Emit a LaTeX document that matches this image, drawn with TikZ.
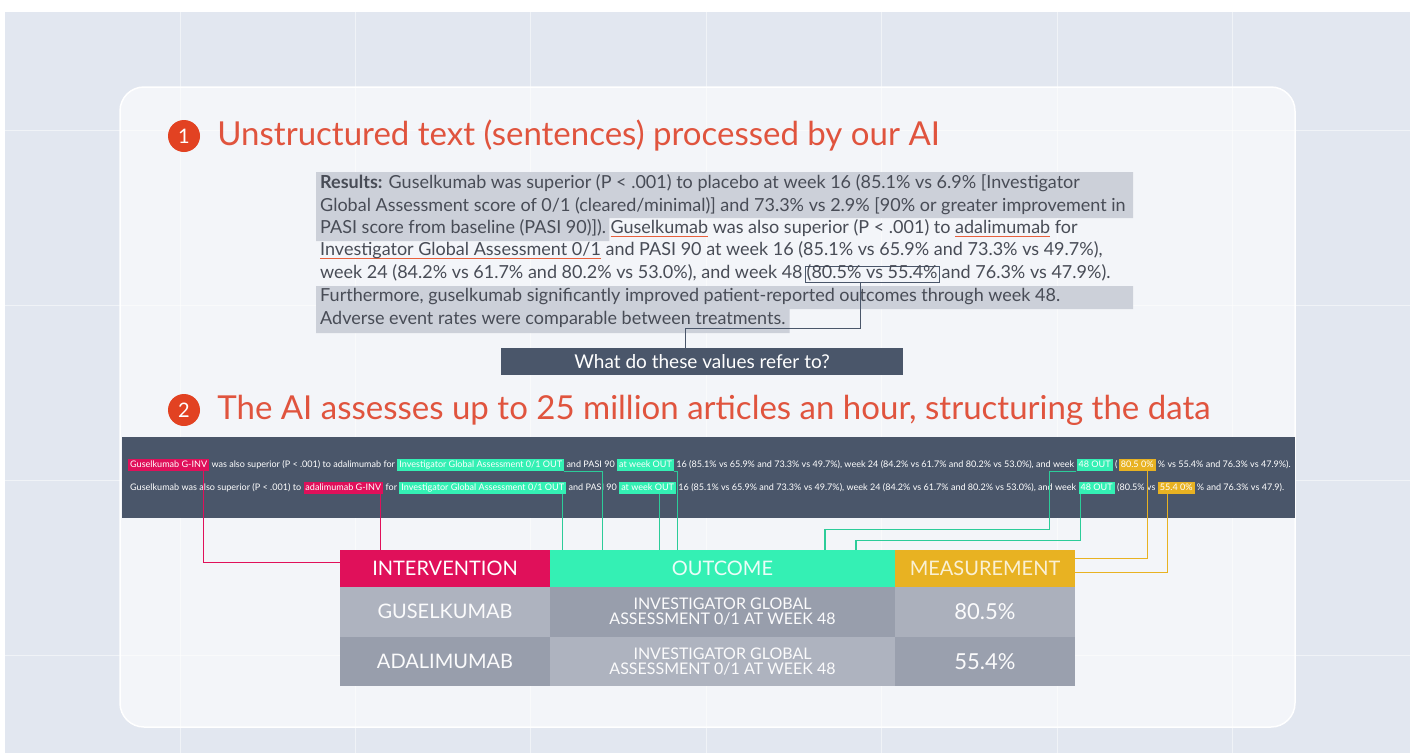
\documentclass[tikz,border=0pt]{standalone}
\usepackage{fontspec}
\setmainfont{Lato}
\usetikzlibrary{positioning,calc}

\definecolor{bgblue}{RGB}{226,231,240}
\definecolor{headred}{RGB}{224,84,62}
\definecolor{badgered}{RGB}{226,66,34}
\definecolor{paratext}{RGB}{72,76,86}
\definecolor{hlgrey}{RGB}{204,208,217}
\definecolor{uline}{RGB}{232,96,60}
\definecolor{slate}{RGB}{74,86,106}
\definecolor{crimson}{RGB}{224,16,90}
\definecolor{mint}{RGB}{52,240,180}
\definecolor{gold}{RGB}{232,178,34}
\definecolor{cellA}{RGB}{174,179,191}
\definecolor{cellB}{RGB}{152,158,172}

\pgfdeclarelayer{back}
\pgfsetlayers{back,main}

\newcommand\redul[1]{\setbox0\hbox{#1}\rlap{\color{uline}\rule[-4pt]{\wd0}{1.4pt}}#1}

\begin{document}
\begin{tikzpicture}[
    x=1pt, y=-1pt,
    every node/.style={font=\fontsize{16}{19}\selectfont},
    head/.style={anchor=west, inner sep=0pt, text=headred, font=\fontsize{33}{38}\selectfont},
    badge/.style={circle, fill=badgered, text=white, minimum size=32pt, inner sep=0pt, font=\fontsize{20}{24}\selectfont},
    para/.style={inner sep=0pt, text=paratext, text height=12pt, text depth=4pt, font=\fontsize{18}{21}\selectfont},
    valbox/.style={para, draw=slate, line width=0.8pt, inner xsep=1.5pt},
    qbox/.style={fill=slate, text=white, minimum width=402pt, minimum height=27pt, font=\fontsize{19}{22}\selectfont},
    btxt/.style={inner sep=0pt, text=white, text height=6.8pt, text depth=2pt, font=\fontsize{9.05}{10}\selectfont},
    tag/.style={btxt, inner xsep=2pt, inner ysep=1.8pt},
    intag/.style={tag, fill=crimson},
    outtag/.style={tag, fill=mint},
    meatag/.style={tag, fill=gold},
    hdr/.style={minimum height=37pt, inner sep=0pt, outer sep=0pt, text=white, font=\fontsize{20}{23}\selectfont},
    cell/.style={minimum height=49.5pt, inner sep=0pt, outer sep=0pt, text=white!95!cellA, align=center, font=\fontsize{20}{23}\selectfont},
    outcell/.style={cell, font=\fontsize{16}{15}\selectfont},
    numcell/.style={cell, font=\fontsize{22}{25}\selectfont},
    con/.style={line width=1.3pt},
    intcon/.style={con, draw=crimson},
    outcon/.style={con, draw=mint!85!black},
    meacon/.style={con, draw=gold},
    qcon/.style={line width=1pt, draw=slate}
]
    \useasboundingbox (0,0) rectangle (1410,753);

    % Headings
    \node[badge] (b1) at (184,136) {1};
    \node[head, right=17pt of b1] (h1) {Unstructured text (sentences) processed by our AI};
    \node[badge] (b2) at (184,410) {2};
    \node[head, right=17pt of b2] (h2) {The AI assesses up to 25 million articles an hour, structuring the data};

    % Abstract text
    \node[para, anchor=west] (p1) at (320,184) {\textbf{Results:} Guselkumab was superior (P < .001) to placebo at week 16 (85.1\% vs 6.9\% [Investigator};
    \node[para, anchor=west] (p2) at (320,207) {Global Assessment score of 0/1 (cleared/minimal)] and 73.3\% vs 2.9\% [90\% or greater improvement in};
    \node[para, anchor=west] (p3a) at (320,229) {PASI score from baseline (PASI 90)]).};
    \node[para, right=4pt of p3a] (p3b) {\redul{Guselkumab} was also superior (P < .001) to \redul{adalimumab} for};
    \node[para, anchor=west] (p4) at (320,251) {\redul{Investigator Global Assessment 0/1} and PASI 90 at week 16 (85.1\% vs 65.9\% and 73.3\% vs 49.7\%),};
    \node[para, anchor=west] (p5) at (320,274) {week 24 (84.2\% vs 61.7\% and 80.2\% vs 53.0\%), and week 48};
    \node[valbox, right=2pt of p5] (vals) {(80.5\% vs 55.4\%};
    \node[para, right=2pt of vals] (p5b) {and 76.3\% vs 47.9\%).};
    \node[para, anchor=west] (p6) at (320,297) {Furthermore, guselkumab significantly improved patient-reported outcomes through week 48.};
    \node[para, anchor=west] (p7) at (320,320) {Adverse event rates were comparable between treatments.};

    % Question
    \node[qbox] (q) at (702,361.5) {What do these values refer to?};
    \draw[qcon] ([xshift=-12pt]vals.south) -- ++(0,46) -| ([xshift=-17pt]q.north);

    % Tagged sentences
    \node[fill=slate, minimum width=1173pt, minimum height=81pt, inner sep=0pt] (band) at (708.5,477.5) {};

    \node[intag, anchor=west] (g1) at (128,465) {Guselkumab G-INV};
    \node[btxt, right=2pt of g1] (t1a) {was also superior (P < .001) to adalimumab for};
    \node[outtag, right=2pt of t1a] (o1a) {Investigator Global Assessment 0/1 OUT};
    \node[btxt, right=2pt of o1a] (t1b) {and PASI 90};
    \node[outtag, right=2pt of t1b] (o1b) {at week OUT};
    \node[btxt, right=2pt of o1b] (t1c) {16 (85.1\% vs 65.9\% and 73.3\% vs 49.7\%), week 24 (84.2\% vs 61.7\% and 80.2\% vs 53.0\%), and week};
    \node[outtag, right=2pt of t1c] (o1c) {48 OUT};
    \node[btxt, right=2pt of o1c] (t1d) {(};
    \node[meatag, right=1pt of t1d] (m1) {80.5 0\%};
    \node[btxt, right=2pt of m1] (t1e) {\% vs 55.4\% and 76.3\% vs 47.9\%).};

    \node[btxt, anchor=west] (t2a) at (130,488) {Guselkumab was also superior (P < .001) to};
    \node[intag, right=2pt of t2a] (i2) {adalimumab G-INV};
    \node[btxt, right=2pt of i2] (t2b) {for};
    \node[outtag, right=2pt of t2b] (o2a) {Investigator Global Assessment 0/1 OUT};
    \node[btxt, right=2pt of o2a] (t2c) {and PASI 90};
    \node[outtag, right=2pt of t2c] (o2b) {at week OUT};
    \node[btxt, right=2pt of o2b] (t2d) {16 (85.1\% vs 65.9\% and 73.3\% vs 49.7\%), week 24 (84.2\% vs 61.7\% and 80.2\% vs 53.0\%), and week};
    \node[outtag, right=2pt of t2d] (o2c) {48 OUT};
    \node[btxt, right=2pt of o2c] (t2e) {(80.5\% vs};
    \node[meatag, right=2pt of t2e] (m2) {55.4 0\%};
    \node[btxt, right=2pt of m2] (t2f) {\% and 76.3\% vs 47.9).};

    % Table
    \node[hdr, fill=crimson, minimum width=210pt] (int) at (445,568.5) {INTERVENTION};
    \node[hdr, fill=mint, minimum width=345pt, text=white!90!mint, right=0pt of int] (out) {OUTCOME};
    \node[hdr, fill=gold, minimum width=180pt, text=white!80!gold, right=0pt of out] (mea) {MEASUREMENT};

    \node[cell, fill=cellA, minimum width=210pt, below=0pt of int] (r1a) {GUSELKUMAB};
    \node[outcell, fill=cellB, minimum width=345pt, below=0pt of out] (r1b) {INVESTIGATOR GLOBAL\\ASSESSMENT 0/1 AT WEEK 48};
    \node[numcell, fill=cellA!85!cellB, minimum width=180pt, below=0pt of mea] (r1c) {80.5\%};
    \node[cell, fill=cellB, minimum width=210pt, below=0pt of r1a] (r2a) {ADALIMUMAB};
    \node[outcell, fill=cellA, minimum width=345pt, below=0pt of r1b] (r2b) {INVESTIGATOR GLOBAL\\ASSESSMENT 0/1 AT WEEK 48};
    \node[numcell, fill=cellB!90!cellA, minimum width=180pt, below=0pt of r1c] (r2c) {55.4\%};

    % Links to table
    \coordinate (k9) at ($(g1.south east)+(-6,0)$);
    \draw[intcon] (k9) |- ([yshift=6pt]int.west);
    \coordinate (k10) at ($(i2.south east)+(-3,0)$);
    \draw[intcon] (k10) -- (k10 |- int.north);

    \coordinate (k1) at ($(o1a.south east)+(38,0)$);
    \draw[outcon] (o1a.south east) -- (k1) -- (k1 |- out.north);
    \coordinate (k2) at ($(o2a.south east)+(-4,0)$);
    \draw[outcon] (k2) -- (k2 |- out.north);
    \coordinate (k3) at ($(o1b.south east)+(3,0)$);
    \draw[outcon] (o1b.south east) -- (k3) -- (k3 |- out.north);
    \coordinate (k4) at ($(o2b.south east)+(-17,0)$);
    \draw[outcon] (k4) -- (k4 |- out.north);
    \coordinate (k5) at ($(o1c.south west)+(-27,0)$);
    \draw[outcon] (o1c.south west) -- (k5) -- ++(0,58) -| ([xshift=-70pt]out.north east);
    \coordinate (k6) at ($(o2c.south west)+(2,0)$);
    \draw[outcon] (k6) -- ++(0,46) -| ([xshift=-39pt]out.north east);

    \coordinate (k7) at ($(m1.south east)+(-8,0)$);
    \draw[meacon] (k7) |- ([yshift=10pt]mea.east);
    \coordinate (k8) at ($(m2.south west)+(10,0)$);
    \draw[meacon] (k8) |- ([yshift=-4pt]mea.east);

    % Backdrop and highlights
    \begin{pgfonlayer}{back}
        \fill[white] (0,0) rectangle (1410,753);
        \fill[bgblue] (5,12) rectangle (1410,753);
        \foreach \gx in {180,355,530,706,881,1057,1232}
            \draw[white, opacity=0.5, line width=1pt] (\gx,12) -- (\gx,753);
        \foreach \gy in {130,305,480,655}
            \draw[white, opacity=0.5, line width=1pt] (5,\gy) -- (1410,\gy);
        \draw[white, line width=1.5pt, fill=white, fill opacity=0.6, rounded corners=24pt] (120,87) rectangle (1295,727);
        \fill[hlgrey] (316,172) -- (1133,172) -- (1133,218) -- ([xshift=3pt]p3a.east |- 0,218) -- ([xshift=3pt]p3a.east |- 0,241) -- (316,241) -- cycle;
        \fill[hlgrey] (316,286) -- (1133,286) -- (1133,309) -- ([xshift=4pt]p7.east |- 0,309) -- ([xshift=4pt]p7.east |- 0,333) -- (316,333) -- cycle;
        \fill[cellB] (r1a.north west) rectangle (r2c.south east);
    \end{pgfonlayer}
\end{tikzpicture}
\end{document}
